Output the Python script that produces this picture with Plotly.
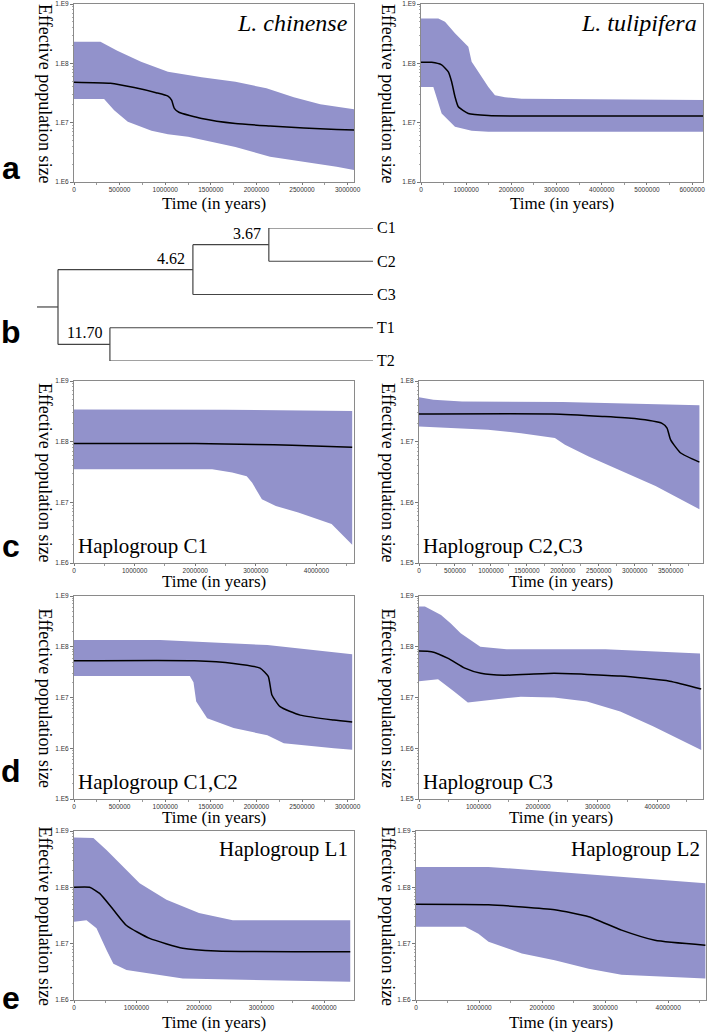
import plotly.graph_objects as go

# ---------------- data (time in years, effective population size) ----------------
# a: L. chinense
A1_T_UP = [0, 0.29e6, 0.475e6, 0.735e6, 1.03e6, 1.40e6, 1.77e6, 2.11e6, 2.41e6, 2.70e6, 3.09e6]
A1_UP = [2.3e8, 2.3e8, 1.63e8, 1.06e8, 7.2e7, 5.8e7, 4.9e7, 3.8e7, 2.67e7, 2.04e7, 1.67e7]
A1_T_LO = [0, 0.33e6, 0.44e6, 0.59e6, 0.85e6, 1.03e6, 1.25e6, 1.77e6, 2.15e6, 2.52e6, 2.88e6, 3.09e6, 3.09e6]
A1_LO = [2.5e7, 2.5e7, 1.62e7, 1.04e7, 7.3e6, 6.4e6, 5.8e6, 3.9e6, 2.66e6, 2.19e6, 1.8e6, 1.58e6, 1.0e6]
A1_T_MED = [0, 0.40e6, 0.66e6, 0.9e6, 1.03e6, 1.07e6, 1.10e6, 1.15e6, 1.40e6, 1.77e6, 2.15e6, 2.52e6, 2.88e6, 3.10e6]
A1_MED = [4.8e7, 4.6e7, 3.9e7, 3.2e7, 2.8e7, 2.4e7, 1.74e7, 1.5e7, 1.18e7, 9.7e6, 8.8e6, 8.1e6, 7.7e6, 7.5e6]

# a: L. tulipifera
A2_T_UP = [0, 0.383e6, 0.531e6, 0.752e6, 1.047e6, 1.121e6, 1.195e6, 1.49e6, 1.637e6, 1.858e6, 2.227e6, 6.246e6]
A2_UP = [5.7e8, 5.7e8, 5.0e8, 3.2e8, 1.9e8, 1.06e8, 8.8e7, 4.0e7, 2.9e7, 2.67e7, 2.53e7, 2.4e7]
A2_T_LO = [0, 0.273e6, 0.347e6, 0.457e6, 0.752e6, 1.121e6, 1.49e6, 6.246e6]
A2_LO = [4.0e7, 4.0e7, 2.7e7, 1.43e7, 8.5e6, 7.3e6, 7.0e6, 7.0e6]
A2_T_MED = [0, 0.236e6, 0.457e6, 0.605e6, 0.678e6, 0.752e6, 0.826e6, 1.047e6, 1.49e6, 2.227e6, 6.246e6]
A2_MED = [1.04e8, 1.04e8, 9.4e7, 7.2e7, 4.9e7, 2.74e7, 1.85e7, 1.43e7, 1.32e7, 1.29e7, 1.29e7]

# c: Haplogroup C1
C1_T_UP = [0, 2.5e6, 4.59e6]
C1_UP = [3.4e8, 3.35e8, 3.2e8]
C1_T_LO = [0, 2.28e6, 2.61e6, 2.85e6, 2.94e6, 3.1e6, 3.33e6, 3.7e6, 4.25e6, 4.59e6, 4.59e6]
C1_LO = [3.5e7, 3.5e7, 3.1e7, 2.7e7, 2.1e7, 1.12e7, 8.7e6, 6.8e6, 4.4e6, 2.0e6, 1.5e6]
C1_T_MED = [0, 2.0e6, 3.0e6, 3.6e6, 4.59e6]
C1_MED = [9.3e7, 9.3e7, 9.0e7, 8.7e7, 8.1e7]

# c: Haplogroup C2,C3
C2_T_UP = [0, 0.2e6, 0.6e6, 2.0e6, 3.9e6]
C2_UP = [5.4e7, 4.9e7, 4.6e7, 4.5e7, 4.0e7]
C2_T_LO = [0, 0.96e6, 1.42e6, 1.89e6, 2.03e6, 2.36e6, 2.82e6, 3.29e6, 3.9e6, 3.9e6]
C2_LO = [1.78e7, 1.57e7, 1.38e7, 1.15e7, 8.9e6, 5.7e6, 3.3e6, 1.85e6, 7.7e5, 1.0e5]
C2_T_MED = [0, 1.85e6, 2.55e6, 3.0e6, 3.38e6, 3.45e6, 3.5e6, 3.64e6, 3.9e6]
C2_MED = [2.85e7, 2.85e7, 2.6e7, 2.4e7, 2.0e7, 1.67e7, 1.07e7, 6.5e6, 4.6e6]

# d: Haplogroup C1,C2
D1_T_UP = [0, 0.945e6, 2.12e6, 3.05e6]
D1_UP = [1.36e8, 1.36e8, 1.08e8, 7.1e7]
D1_T_LO = [0, 1.27e6, 1.31e6, 1.34e6, 1.46e6, 1.75e6, 2.12e6, 2.3e6, 2.85e6, 3.05e6, 3.05e6]
D1_LO = [2.65e7, 2.65e7, 2.0e7, 8.3e6, 3.9e6, 2.5e6, 1.8e6, 1.26e6, 1.0e6, 9.3e5, 1.0e5]
D1_T_MED = [0, 1.32e6, 1.75e6, 2.04e6, 2.13e6, 2.17e6, 2.26e6, 2.48e6, 2.85e6, 3.05e6]
D1_MED = [5.3e7, 5.3e7, 4.7e7, 3.8e7, 2.6e7, 1.12e7, 6.6e6, 4.5e6, 3.6e6, 3.3e6]

# d: Haplogroup C3
D2_T_UP = [0, 0.1e6, 0.37e6, 0.53e6, 0.7e6, 1.03e6, 1.47e6, 3.13e6, 4.72e6]
D2_UP = [6.2e8, 6.2e8, 4.2e8, 2.9e8, 1.84e8, 1.0e8, 8.9e7, 8.9e7, 7.4e7]
D2_T_LO = [0, 0.32e6, 0.6e6, 0.82e6, 1.16e6, 1.71e6, 2.27e6, 2.82e6, 3.38e6, 3.93e6, 4.74e6]
D2_LO = [2.1e7, 2.3e7, 1.29e7, 8.0e6, 8.7e6, 1.04e7, 1.0e7, 8.3e6, 5.3e6, 2.7e6, 9.2e5]
D2_T_MED = [0, 0.21e6, 0.49e6, 0.77e6, 1.04e6, 1.43e6, 2.27e6, 3.38e6, 4.21e6, 4.74e6]
D2_MED = [8.2e7, 8.0e7, 5.9e7, 3.8e7, 3.0e7, 2.75e7, 3.0e7, 2.65e7, 2.1e7, 1.47e7]

# e: Haplogroup L1
E1_T_UP = [0, 0.31e6, 0.52e6, 0.68e6, 1.05e6, 1.48e6, 2.0e6, 2.54e6, 4.42e6]
E1_UP = [7.7e8, 7.5e8, 4.6e8, 3.05e8, 1.18e8, 6.0e7, 3.5e7, 2.6e7, 2.6e7]
E1_T_LO = [0, 0.2e6, 0.36e6, 0.52e6, 0.63e6, 0.84e6, 1.05e6, 1.74e6, 4.42e6, 4.42e6]
E1_LO = [2.45e7, 2.6e7, 1.88e7, 7.7e6, 4.4e6, 3.4e6, 3.2e6, 2.4e6, 2.1e6, 1.0e6]
E1_T_MED = [0, 0.25e6, 0.41e6, 0.63e6, 0.84e6, 1.21e6, 1.74e6, 2.28e6, 4.42e6]
E1_MED = [1.0e8, 1.0e8, 7.8e7, 4.0e7, 2.1e7, 1.24e7, 8.3e6, 7.4e6, 7.2e6]

# e: Haplogroup L2
E2_T_UP = [0, 1.15e6, 2.2e6, 3.26e6, 4.59e6]
E2_UP = [2.3e8, 2.3e8, 1.9e8, 1.55e8, 1.18e8]
E2_T_LO = [0, 0.78e6, 0.99e6, 1.15e6, 1.68e6, 2.2e6, 2.74e6, 3.26e6, 4.59e6, 4.59e6]
E2_LO = [2.0e7, 2.0e7, 1.5e7, 1.08e7, 6.7e6, 5.1e6, 3.6e6, 2.8e6, 2.4e6, 1.0e6]
E2_T_MED = [0, 1.15e6, 2.2e6, 2.74e6, 3.26e6, 3.79e6, 4.59e6]
E2_MED = [5.0e7, 4.9e7, 4.0e7, 3.0e7, 1.74e7, 1.15e7, 9.4e6]

# b: tree (cladogram depth units; tips at depth 10)
TREE = ("", 0.625, [
    ("4.62", 4.64, [("3.67", 6.9, ["C1", "C2"]), "C3"]),
    ("11.70", 2.17, ["T1", "T2"]),
])
TIP_DEPTH = 10.0
ROOT_DEPTH = 0.0

Y_TICK_TEXT = {5: "1.E5", 6: "1.E6", 7: "1.E7", 8: "1.E8", 9: "1.E9"}

# ---------------- layout helpers ----------------
W, H = 709, 1032
def fx(p):
    return p / W
def fy(p):
    return 1 - p / H

FILL = "rgb(146,146,203)"
SERIF = "Liberation Serif, Times New Roman, serif"
SANS = "Liberation Sans, Arial, sans-serif"

panels = [
    dict(box=(74, 354, 4, 182), xmax=3.07e6, dt=500000, yr=(6, 9),
         up=(A1_T_UP, A1_UP), lo=(A1_T_LO, A1_LO), med=(A1_T_MED, A1_MED),
         label=("<i>L. chinense</i>", "tr", 24), ytitle=45, xtitle=203),
    dict(box=(421, 703, 4, 182), xmax=6.24e6, dt=1000000, yr=(6, 9),
         up=(A2_T_UP, A2_UP), lo=(A2_T_LO, A2_LO), med=(A2_T_MED, A2_MED),
         label=("<i>L. tulipifera</i>", "tr", 24), ytitle=388, xtitle=203),
    dict(box=(74, 354, 381, 563), xmax=4.62e6, dt=1000000, yr=(6, 9),
         up=(C1_T_UP, C1_UP), lo=(C1_T_LO, C1_LO), med=(C1_T_MED, C1_MED),
         label=("Haplogroup C1", "bl", 21), ytitle=45, xtitle=581),
    dict(box=(419, 703, 381, 563), xmax=3.95e6, dt=500000, yr=(5, 8),
         up=(C2_T_UP, C2_UP), lo=(C2_T_LO, C2_LO), med=(C2_T_MED, C2_MED),
         label=("Haplogroup C2,C3", "bl", 21), ytitle=388, xtitle=581),
    dict(box=(74, 354, 596, 799), xmax=3.07e6, dt=500000, yr=(5, 9),
         up=(D1_T_UP, D1_UP), lo=(D1_T_LO, D1_LO), med=(D1_T_MED, D1_MED),
         label=("Haplogroup C1,C2", "bl", 21), ytitle=45, xtitle=817),
    dict(box=(419, 703, 596, 799), xmax=4.77e6, dt=1000000, yr=(5, 9),
         up=(D2_T_UP, D2_UP), lo=(D2_T_LO, D2_LO), med=(D2_T_MED, D2_MED),
         label=("Haplogroup C3", "bl", 21), ytitle=388, xtitle=817),
    dict(box=(74, 354, 831, 1000), xmax=4.48e6, dt=1000000, yr=(6, 9),
         up=(E1_T_UP, E1_UP), lo=(E1_T_LO, E1_LO), med=(E1_T_MED, E1_MED),
         label=("Haplogroup L1", "tr", 21), ytitle=45, xtitle=1022),
    dict(box=(416, 706, 831, 1000), xmax=4.6e6, dt=1000000, yr=(6, 9),
         up=(E2_T_UP, E2_UP), lo=(E2_T_LO, E2_LO), med=(E2_T_MED, E2_MED),
         label=("Haplogroup L2", "tr", 21), ytitle=388, xtitle=1022),
]

fig = go.Figure()
layout = dict(width=W, height=H, margin=dict(l=0, r=0, t=0, b=0, autoexpand=False),
              paper_bgcolor="white", plot_bgcolor="white", showlegend=False)
annotations = []

for i, p in enumerate(panels):
    n = i + 1
    xs = "" if n == 1 else str(n)
    x0, x1, y0, y1 = p["box"]
    tu, vu = p["up"]
    tl, vl = p["lo"]
    fig.add_trace(go.Scatter(
        x=list(tu) + list(tl)[::-1], y=list(vu) + list(vl)[::-1],
        fill="toself", fillcolor=FILL, line=dict(width=0), mode="lines",
        xaxis="x" + xs, yaxis="y" + xs, hoverinfo="skip"))
    tm, vm = p["med"]
    fig.add_trace(go.Scatter(x=tm, y=vm, mode="lines", line=dict(color="black", width=1.5,
                                                                   shape="spline", smoothing=0.5),
                             xaxis="x" + xs, yaxis="y" + xs))
    layout["xaxis" + xs] = dict(
        domain=[fx(x0), fx(x1)], anchor="y" + xs, range=[0, p["xmax"]], automargin=False,
        tickmode="linear", tick0=0, dtick=p["dt"], tickformat="d",
        showgrid=False, zeroline=False, showline=True, mirror=True,
        linecolor="#8a8a8a", linewidth=1, ticks="outside", ticklen=2, tickcolor="#777",
        ticklabelstandoff=-1,
        tickfont=dict(family=SANS, size=6.5, color="#333"),
        minor=dict(ticks="outside", ticklen=1.5, tickcolor="#999", dtick=p["dt"] / 2))
    lo_e, hi_e = p["yr"]
    layout["yaxis" + xs] = dict(
        domain=[fy(y1), fy(y0)], anchor="x" + xs, type="log", range=[lo_e, hi_e], automargin=False,
        tickmode="array", tickvals=[10 ** k for k in range(lo_e, hi_e + 1)],
        ticktext=[Y_TICK_TEXT[k] for k in range(lo_e, hi_e + 1)],
        showgrid=False, zeroline=False, showline=True, mirror=True,
        linecolor="#8a8a8a", linewidth=1, ticks="outside", ticklen=3, tickcolor="#777",
        tickfont=dict(family=SANS, size=6.5, color="#333"),
        minor=dict(ticks="outside", ticklen=1.5, tickcolor="#aaa", dtick="D1"))
    # inner label
    text, pos, size = p["label"]
    if pos == "tr":
        annotations.append(dict(text=text, xref="paper", yref="paper", x=fx(x1 - 4), y=fy(y0 + 4),
                                xanchor="right", yanchor="top", showarrow=False,
                                font=dict(family=SERIF, size=size, color="black")))
    else:
        annotations.append(dict(text=text, xref="paper", yref="paper", x=fx(x0 + 2), y=fy(y1 - 3),
                                xanchor="left", yanchor="bottom", showarrow=False,
                                font=dict(family=SERIF, size=size, color="black")))
    # y title
    annotations.append(dict(text="Effective population size", xref="paper", yref="paper",
                            x=fx(p["ytitle"]), y=fy((y0 + y1) / 2 + 1), textangle=90,
                            xanchor="center", yanchor="middle", showarrow=False,
                            font=dict(family=SERIF, size=18, color="black")))
    # x title
    annotations.append(dict(text="Time (in years)", xref="paper", yref="paper",
                            x=fx((x0 + x1) / 2), y=fy(p["xtitle"]),
                            xanchor="center", yanchor="middle", showarrow=False,
                            font=dict(family=SERIF, size=17, color="black")))

# ---------------- tree (panel b) ----------------
tree_x = []
tree_y = []
tip_counter = [0]

def place(node):
    """returns row of node; draws lines"""
    if isinstance(node, str):
        r = tip_counter[0]
        tip_counter[0] += 1
        annotations.append(dict(text=node, xref="x9", yref="y9", x=TIP_DEPTH, y=r,
                                xanchor="left", yanchor="middle", xshift=2, showarrow=False,
                                font=dict(family=SERIF, size=16, color="black")))
        return r, TIP_DEPTH
    label, depth, children = node
    rows = []
    for ch in children:
        r, d = place(ch)
        rows.append(r)
        tree_x.extend([depth, d, None])
        tree_y.extend([r, r, None])
    tree_x.extend([depth, depth, None])
    tree_y.extend([min(rows), max(rows), None])
    row = (min(rows) + max(rows)) / 2
    if label:
        annotations.append(dict(text=label, xref="x9", yref="y9", x=depth, y=row,
                                xanchor="right", yanchor="bottom", xshift=-6, yshift=1,
                                showarrow=False,
                                font=dict(family=SERIF, size=16, color="black")))
    return row, depth

root_row, root_d = place(TREE)
tree_x.extend([ROOT_DEPTH, root_d, None])
tree_y.extend([root_row, root_row, None])

fig.add_trace(go.Scatter(x=tree_x, y=tree_y, mode="lines", line=dict(color="#444", width=1.2),
                         xaxis="x9", yaxis="y9", hoverinfo="skip"))
layout["xaxis9"] = dict(domain=[fx(37), fx(373)], anchor="y9", range=[0, TIP_DEPTH],
                        visible=False, fixedrange=True, automargin=False)
layout["yaxis9"] = dict(domain=[fy(361), fy(228)], anchor="x9", range=[4, 0],
                        visible=False, fixedrange=True, automargin=False)

# panel letters
for letter, py in [("a", 168), ("b", 332), ("c", 546), ("d", 771), ("e", 998)]:
    annotations.append(dict(text="<b>%s</b>" % letter, xref="paper", yref="paper",
                            x=fx(11), y=fy(py), xanchor="center", yanchor="middle",
                            showarrow=False, font=dict(family=SANS, size=32, color="black")))

layout["annotations"] = annotations
fig.update_layout(**layout)
fig.write_html("out.html", config={"displayModeBar": False},
               post_script="document.body.style.margin='0px';document.body.style.overflow='hidden';")
